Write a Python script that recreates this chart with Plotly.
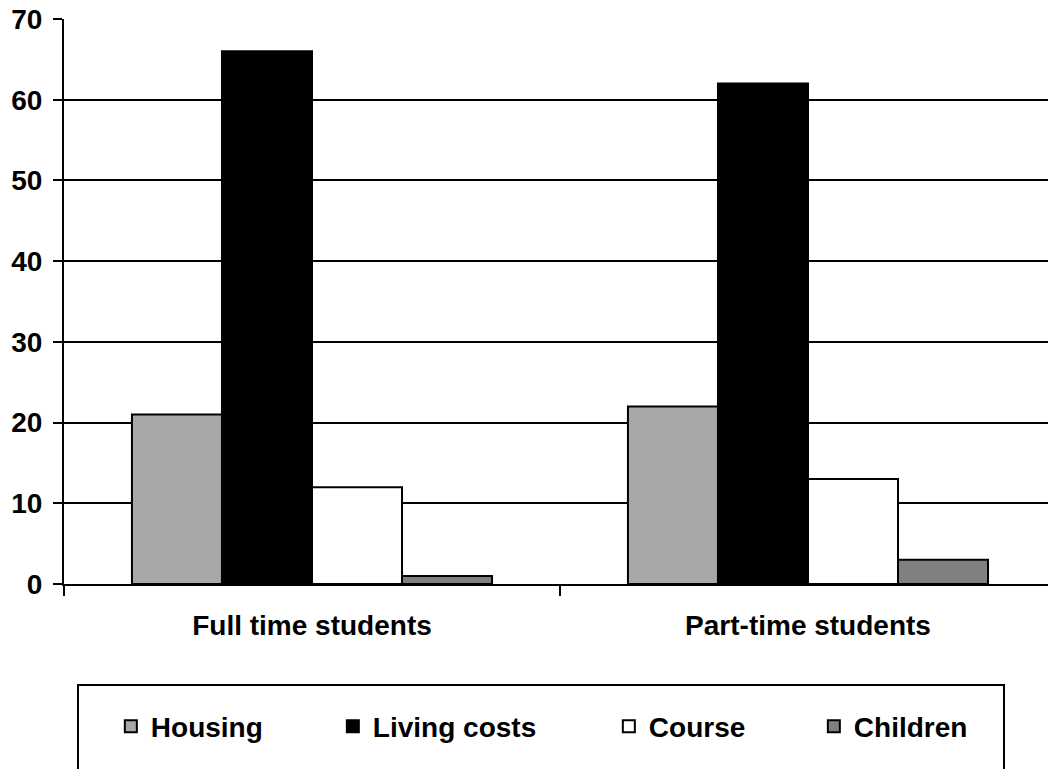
import plotly.graph_objects as go

categories = ["Full time students", "Part-time students"]
series_names = ["Housing", "Living costs", "Course", "Children"]
housing = [21, 22]
living_costs = [66, 62]
course = [12, 13]
children = [1, 3]
y_ticks = [0, 10, 20, 30, 40, 50, 60, 70]

values = [housing, living_costs, course, children]
colors = ["#A8A8A8", "#000000", "#FFFFFF", "#808080"]
legend_widths = [177, 231, 160, 150]

FONT = "Liberation Sans, Arial, sans-serif"

fig = go.Figure()
for name, vals, col, lw in zip(series_names, values, colors, legend_widths):
    fig.add_trace(go.Bar(
        x=categories, y=vals, name=name,
        marker=dict(color=col, line=dict(color="#000000", width=2)),
        legendwidth=lw,
    ))

fig.update_layout(
    width=1048, height=769,
    margin=dict(l=64, r=0, t=19, b=185, autoexpand=False),
    paper_bgcolor="white", plot_bgcolor="white",
    barmode="group", bargap=0.274, bargroupgap=0,
    font=dict(family=FONT, size=28, color="black"),
    showlegend=True,
    legend=dict(
        orientation="h", x=0.0476, xanchor="left", y=-0.2522, yanchor="middle",
        font=dict(family=FONT, size=28, color="black", weight="bold"),
        bgcolor="rgba(0,0,0,0)", borderwidth=0, traceorder="normal",
    ),
    xaxis=dict(
        type="category", range=[-0.5, 1.4839],
        showline=True, linecolor="black", linewidth=2,
        ticks="outside", tickson="boundaries", ticklen=10, tickwidth=2, tickcolor="black",
        tickfont=dict(family=FONT, size=28, color="black", weight="bold"),
        ticklabelstandoff=15, automargin=False,
        showgrid=False, zeroline=False,
    ),
    yaxis=dict(
        range=[0, 70.0001], tickvals=y_ticks, ticktext=[str(v) for v in y_ticks],
        showline=True, linecolor="black", linewidth=2,
        ticks="outside", ticklen=9, tickwidth=2, tickcolor="black",
        showgrid=True, gridcolor="black", gridwidth=2,
        zeroline=False, ticklabelstandoff=5, automargin=False,
        ticklabeloverflow="allow",
        tickfont=dict(family=FONT, size=28, color="black", weight="bold"),
    ),
)

fig.add_shape(type="rect", xref="paper", yref="paper",
              x0=(78 - 64) / 984, x1=(1004 - 64) / 984, y0=-0.1788, y1=-0.40,
              line=dict(color="black", width=2), fillcolor="rgba(0,0,0,0)", layer="above")

fig.write_html(
    "out.html",
    config={"displayModeBar": False},
    post_script="document.body.style.margin='0';document.body.style.overflow='hidden';",
)
